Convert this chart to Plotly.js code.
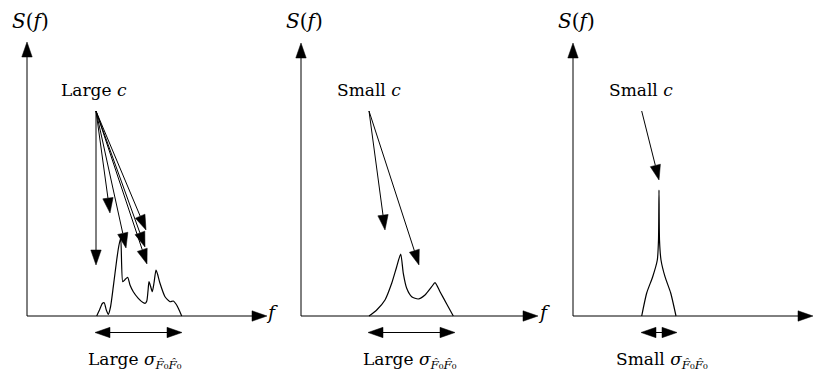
<!DOCTYPE html>
<html>
<head>
<meta charset="utf-8">
<script src="https://cdn.plot.ly/plotly-3.0.1.min.js"></script>
<style>
  html, body { margin: 0; padding: 0; background: #fff; }
  #chart { width: 813px; height: 378px; }
</style>
</head>
<body>
<div id="chart"></div>
<script>
// ---- Spectra S(f), one per panel (f and S measured from each panel's origin) ----
const broadF = [69.7, 72.5, 75.3, 77.2, 79.3, 81.3, 83.5, 86.3, 89.7, 91.8, 93.7, 95.7, 97.2, 98.5, 100.7, 103, 106.3, 111.3, 116, 118.3, 119.8, 121, 122, 123.5, 125.3, 127, 129, 130.5, 133, 138, 143, 146.3, 149, 151.3, 154.7];
const broadS = [0, 6, 12.5, 13.3, 6, 1.7, 9, 29.3, 56, 70, 77.7, 34.3, 35.5, 37, 38.7, 31, 24.3, 17.7, 13.5, 12.7, 15, 25, 34.3, 30, 24.3, 33, 46, 42, 32.7, 19.3, 14.3, 15, 12, 7.7, 0];

const doubleF = [68, 75.7, 84, 90.7, 95.7, 99.7, 102.3, 105.7, 110.7, 117.3, 124, 130.7, 134, 139, 145.7, 152.3];
const doubleS = [0, 6, 16, 32.7, 49.3, 62, 42.7, 27.7, 19.3, 17, 21, 29.3, 33.3, 24.3, 12, 0];

const spikeF = [68.7, 73.7, 79.7, 84.3, 85.5, 86, 86.5, 88, 92, 97.7, 103];
const spikeS = [0, 23, 39.3, 56, 76, 126, 76, 56, 39.3, 23, 0];

// ---- Pointer arrows from the "c" labels (start point, then tips) ----
const pointerStart = [[69, 205], [68, 205], [68.7, 205]];
const pointerTipF = [[69, 83, 99, 119, 118, 120], [84, 118], [86]];
const pointerTipS = [[51, 103, 68, 86, 69, 52], [86, 51], [136]];

// ---- Spread arrows under each f axis ----
const spreadLeft = [68, 67, 68];
const spreadRight = [155, 154, 104];
const spreadLevel = -16.5;

// ---- Axis extents ----
const axisTopS = [274, 273, 273];
const axisEndF = [240, 237, 240];

// ---- Text ----
const cLabels = ['Large <i>c</i>', 'Small <i>c</i>', 'Small <i>c</i>'];
const cLabelF = [66.5, 67.5, 68];
const sigmaWords = ['Large', 'Large', 'Small'];
const sigmaLabelF = [108, 109, 89];
const fLabelF = [245, 243, null];

// ---- Panel geometry (pixels) ----
const W = 813, H = 378;
const originX = [27, 301, 573];
const originY = 316;
const panelPx = [[0, 272], [272, 545], [545, 813]];

const HEAD_LEN = 15, HEAD_HALF = 5.2;
const INK = '#000';
const SERIF = 'DejaVu Serif';

const traces = [];
const suffix = i => (i === 0 ? '' : String(i + 1));

function head(xa, ya, tx, ty, fx, fy) {
  // filled triangular head with its tip at (tx,ty) pointing away from (fx,fy)
  const dx = tx - fx, dy = ty - fy;
  const len = Math.hypot(dx, dy);
  const ux = dx / len, uy = dy / len;
  const bx = tx - HEAD_LEN * ux, by = ty - HEAD_LEN * uy;
  const nx = -uy, ny = ux;
  traces.push({
    type: 'scatter', mode: 'lines', xaxis: xa, yaxis: ya,
    x: [tx, bx + HEAD_HALF * nx, bx - HEAD_HALF * nx, tx],
    y: [ty, by + HEAD_HALF * ny, by - HEAD_HALF * ny, ty],
    fill: 'toself', fillcolor: INK, line: { color: INK, width: 0.5 },
    hoverinfo: 'skip', showlegend: false
  });
  return [bx, by];
}

function arrow(xa, ya, x0, y0, x1, y1, both) {
  const end = head(xa, ya, x1, y1, x0, y0);
  const start = both ? head(xa, ya, x0, y0, x1, y1) : [x0, y0];
  traces.push({
    type: 'scatter', mode: 'lines', xaxis: xa, yaxis: ya,
    x: [start[0], end[0]], y: [start[1], end[1]],
    line: { color: INK, width: 1 }, hoverinfo: 'skip', showlegend: false
  });
}

const spectraF = [broadF, doubleF, spikeF];
const spectraS = [broadS, doubleS, spikeS];

const layout = {
  width: W, height: H,
  margin: { l: 0, r: 0, t: 0, b: 0 },
  paper_bgcolor: '#fff', plot_bgcolor: 'rgba(0,0,0,0)',
  showlegend: false,
  font: { family: SERIF, size: 17, color: INK },
  annotations: []
};

for (let i = 0; i < 3; i++) {
  const xa = 'x' + suffix(i), ya = 'y' + suffix(i);
  const [a, b] = panelPx[i];
  layout['xaxis' + suffix(i)] = {
    domain: [a / W, b / W], range: [a - originX[i], b - originX[i]],
    visible: false, fixedrange: true, anchor: ya
  };
  layout['yaxis' + suffix(i)] = {
    domain: [0, 1], range: [originY - H, originY],
    visible: false, fixedrange: true, anchor: xa
  };

  // axes
  arrow(xa, ya, 0, 0, 0, axisTopS[i], false);
  arrow(xa, ya, 0, 0, axisEndF[i], 0, false);

  // spectrum
  traces.push({
    type: 'scatter', mode: 'lines', xaxis: xa, yaxis: ya,
    x: spectraF[i], y: spectraS[i],
    line: { color: INK, width: 1.2, shape: 'spline', smoothing: 0.6 },
    hoverinfo: 'skip', showlegend: false
  });

  // pointers from the c label
  const [sx, sy] = pointerStart[i];
  pointerTipF[i].forEach((tf, k) => arrow(xa, ya, sx, sy, tf, pointerTipS[i][k], false));

  // spread arrow
  arrow(xa, ya, spreadLeft[i], spreadLevel, spreadRight[i], spreadLevel, true);

  // labels
  const ann = (x, y, text, size) => layout.annotations.push({
    xref: xa, yref: ya, x, y, text, showarrow: false,
    xanchor: 'center', yanchor: 'middle',
    font: { family: SERIF, size: size || 17, color: INK }
  });
  ann(3.7, 295, '<i>S</i>(<i>f</i>)', 20);
  ann(cLabelF[i], 226, cLabels[i]);
  if (fLabelF[i] !== null) ann(fLabelF[i], 4, '<i>f</i>', 19);
  ann(sigmaLabelF[i], -44,
      sigmaWords[i] + ' <i>σ</i><sub><i>F\u0302</i>\u2080<i>F\u0302</i>\u2080</sub>');
}

Plotly.newPlot('chart', traces, layout, { staticPlot: true, displayModeBar: false });
</script>
</body>
</html>
